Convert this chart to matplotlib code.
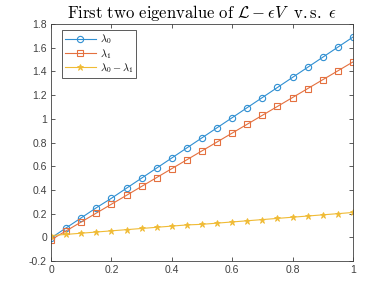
import matplotlib.pyplot as plt
import numpy as np

plt.rcParams["mathtext.fontset"] = "cm"
plt.rcParams["font.family"] = ["Liberation Sans", "DejaVu Sans"]

# epsilon values and the three curves
eps = [0.0, 0.05, 0.1, 0.15, 0.2, 0.25, 0.3, 0.35, 0.4, 0.45, 0.5,
       0.55, 0.6, 0.65, 0.7, 0.75, 0.8, 0.85, 0.9, 0.95, 1.0]
lam0 = [-0.005, 0.08, 0.165, 0.25, 0.33, 0.415, 0.50, 0.585, 0.67, 0.755, 0.84,
        0.925, 1.01, 1.095, 1.18, 1.265, 1.35, 1.435, 1.52, 1.605, 1.69]
lam1 = [-0.02, 0.055, 0.13, 0.205, 0.28, 0.355, 0.43, 0.505, 0.58, 0.655, 0.73,
        0.805, 0.88, 0.955, 1.03, 1.105, 1.18, 1.255, 1.33, 1.405, 1.48]
diff = [0.015, 0.025, 0.035, 0.045, 0.055, 0.065, 0.075, 0.085, 0.095, 0.105, 0.11,
        0.12, 0.13, 0.14, 0.15, 0.16, 0.17, 0.18, 0.19, 0.20, 0.21]

xticks = [0, 0.2, 0.4, 0.6, 0.8, 1]
xticklabels = ["0", "0.2", "0.4", "0.6", "0.8", "1"]
yticks = [-0.2, 0, 0.2, 0.4, 0.6, 0.8, 1.0, 1.2, 1.4, 1.6, 1.8]
yticklabels = ["-0.2", "0", "0.2", "0.4", "0.6", "0.8", "1", "1.2", "1.4", "1.6", "1.8"]

fig = plt.figure(figsize=(3.9, 2.93), dpi=100)
ax = fig.add_axes([0.131, 0.109, 0.774, 0.809])

ax.plot(eps, lam0, "-o", color="#2f8fd2", lw=0.8, ms=4.5, mfc="none", mew=0.8,
        label=r"$\lambda_0$")
ax.plot(eps, lam1, "-s", color="#e4703f", lw=0.8, ms=4.5, mfc="none", mew=0.8,
        label=r"$\lambda_1$")
ax.plot(eps, diff, "-*", color="#f0bb35", lw=0.8, ms=5, mew=0.6,
        label=r"$\lambda_0-\lambda_1$")

ax.set_xlim(0, 1)
ax.set_ylim(-0.2, 1.8)
ax.set_xticks(xticks, xticklabels)
ax.set_yticks(yticks, yticklabels)
ax.tick_params(direction="in", length=3, width=0.6, labelsize=7.5,
               colors="#404040", top=True, right=True, pad=3)
for s in ax.spines.values():
    s.set_color("#404040")
    s.set_linewidth(0.6)

ax.set_title(r"$\mathrm{First\ two\ eigenvalue\ of\ }\mathcal{L}-\epsilon V\mathrm{\ \ v.s.\ }\epsilon$",
             fontsize=12, pad=4)

leg = ax.legend(loc="upper left", fontsize=7.5, fancybox=False, framealpha=1,
                edgecolor="#404040", handlelength=3.0, borderpad=0.25,
                labelspacing=0.05, handletextpad=0.4, borderaxespad=0.0,
                bbox_to_anchor=(0.037, 0.975))
leg.get_frame().set_linewidth(0.6)

fig.savefig("out.png", dpi=100)
